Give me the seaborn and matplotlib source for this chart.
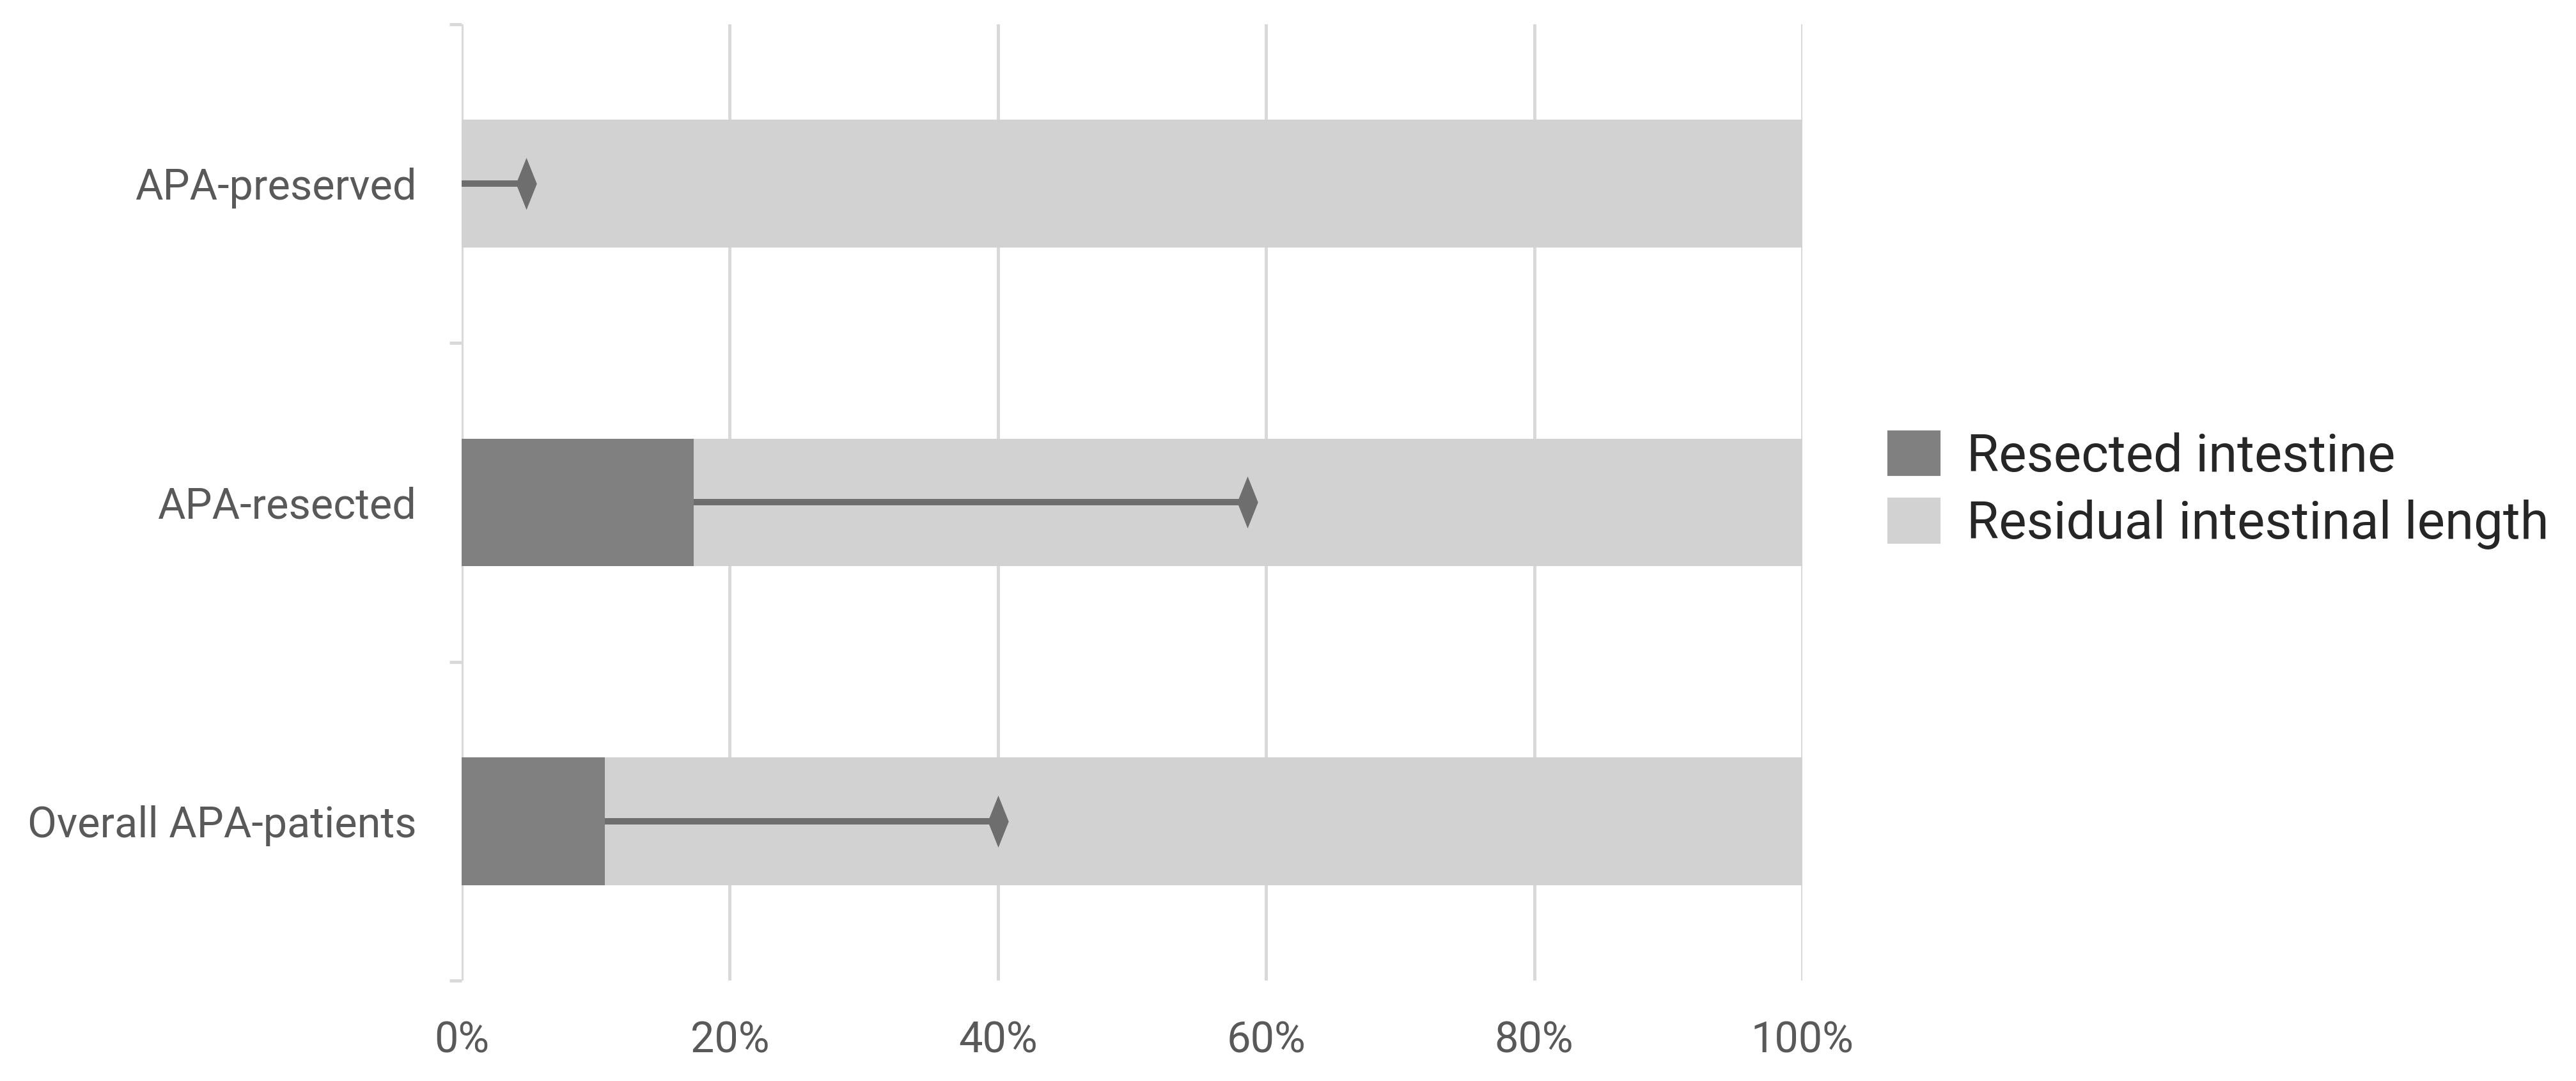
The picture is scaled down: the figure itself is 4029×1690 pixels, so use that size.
import numpy as np
import pandas as pd
import matplotlib
matplotlib.use("Agg")
import matplotlib.pyplot as plt
import seaborn as sns
from matplotlib.patches import Patch
from matplotlib.path import Path

# values (percent of intestinal length)
groups = ["APA-preserved", "APA-resected", "Overall APA-patients"]
resected = [0.0, 17.3, 10.7]
residual = [100.0, 82.7, 89.3]
err_upper = [4.8, 58.6, 40.0]
xticks = [0, 20, 40, 60, 80, 100]
xticklabels = ["0%", "20%", "40%", "60%", "80%", "100%"]

dark = "#808080"
light = "#d2d2d2"
errc = "#6e6e6e"
gridc = "#d9d9d9"
textc = "#595959"

sns.set_theme(style="white")
plt.rcParams["font.family"] = ["Roboto", "DejaVu Sans"]

df = pd.DataFrame({"group": groups, "resected": resected, "residual": residual})
df["total"] = df["resected"] + df["residual"]

fig = plt.figure(figsize=(4029 / 300, 1690 / 300), dpi=300)
ax = fig.add_axes([722 / 4029, 157 / 1690, 2097 / 4029, 1495 / 1690])

sns.barplot(data=df, y="group", x="total", color=light, width=0.4,
            saturation=1, linewidth=0, errorbar=None, ax=ax)
sns.barplot(data=df, y="group", x="resected", color=dark, width=0.4,
            saturation=1, linewidth=0, errorbar=None, ax=ax)

ypos = np.arange(len(groups))
lo = np.zeros(len(groups))
hi = np.array(err_upper) - np.array(resected)
ax.errorbar(resected, ypos, xerr=[lo, hi], fmt="none", ecolor=errc,
            elinewidth=2.4, capsize=0, zorder=3)
diamond = Path([(0, 1), (0.4, 0), (0, -1), (-0.4, 0), (0, 1)],
               [Path.MOVETO, Path.LINETO, Path.LINETO, Path.LINETO, Path.CLOSEPOLY])
ax.plot(err_upper, ypos, ls="none", marker=diamond, markersize=19.5,
        color=errc, markeredgewidth=0, zorder=4)

ax.set_xlim(0, 100)
ax.set_ylim(2.5, -0.5)
ax.set_xticks(xticks)
ax.set_xticklabels(xticklabels)
ax.set_xlabel("")
ax.set_ylabel("")
ax.grid(axis="x", color=gridc, lw=1.2)
ax.grid(axis="y", visible=False)
ax.set_axisbelow(True)
for s in ax.spines.values():
    s.set_visible(False)

ax.set_yticks([-0.5, 0.5, 1.5, 2.5], minor=True)
ax.tick_params(axis="y", which="minor", length=4.6, width=1.2, color=gridc, left=True)
ax.tick_params(axis="y", which="major", length=0, pad=17, labelsize=16, labelcolor=textc)
ax.tick_params(axis="x", length=0, pad=15, labelsize=16, labelcolor=textc)

handles = [Patch(color=dark, label="Resected intestine"),
           Patch(color=light, label="Residual intestinal length")]
fig.legend(handles=handles, loc="center left", bbox_to_anchor=(2954 / 4029, 1 - 767 / 1690),
           frameon=False, fontsize=19.6, handlelength=0.97, handleheight=0.89,
           handletextpad=0.53, labelspacing=0.33, borderpad=0, borderaxespad=0)

fig.savefig("out.png", dpi=300)
